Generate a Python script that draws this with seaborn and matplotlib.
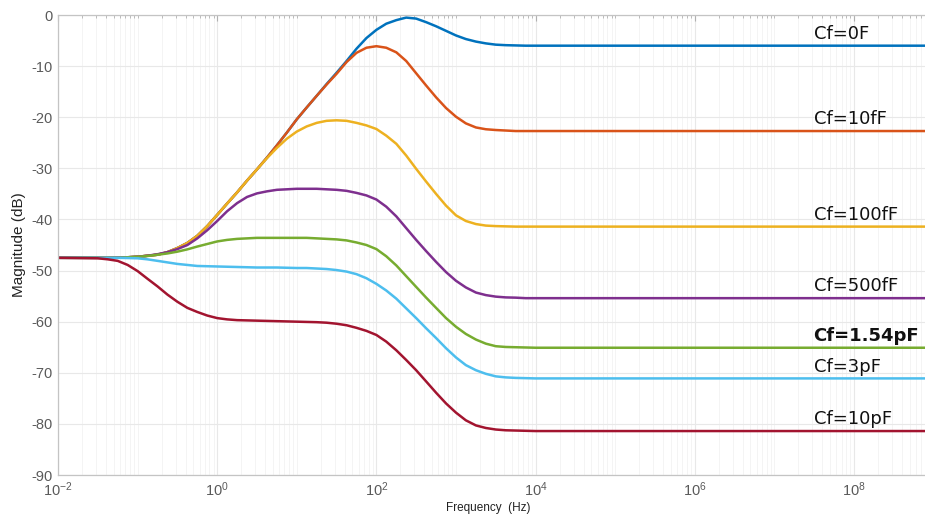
import numpy as np
import pandas as pd
import matplotlib
matplotlib.use("Agg")
import matplotlib.pyplot as plt
import seaborn as sns
from matplotlib.ticker import FixedLocator, LogLocator, LogFormatterSciNotation, NullFormatter

# ---------------- data ----------------
freq_hz = [1e-2, 3.16e-2, 4.22e-2, 5.62e-2, 7.50e-2, 1e-1, 1.33e-1, 1.78e-1, 2.37e-1, 3.16e-1, 4.22e-1, 5.62e-1, 7.50e-1,
           1.0, 1.33, 1.78, 2.37, 3.16, 4.22, 5.62, 7.50,
           10.0, 13.3, 17.8, 23.7, 31.6, 42.2, 56.2, 75.0,
           100.0, 133.0, 178.0, 237.0, 316.0, 422.0, 562.0, 750.0,
           1000.0, 1330.0, 1780.0, 2370.0, 3160.0, 4220.0, 5620.0, 7500.0,
           1e4, 3.16e4, 1e5, 1e6, 1e7, 1e8, 1e9]

cf_labels = ["Cf=0F", "Cf=10fF", "Cf=100fF", "Cf=500fF", "Cf=1.54pF", "Cf=3pF", "Cf=10pF"]

mag_0F = [-47.5, -47.5, -47.5, -47.45, -47.4, -47.3, -47.1, -46.9, -46.4, -45.6, -44.6, -43.2, -41.3,
          -39.1, -36.9, -34.7, -32.4, -30.2, -27.9, -25.5, -23.0,
          -20.4, -18.1, -15.8, -13.5, -11.3, -9.0, -6.6, -4.5,
          -2.9, -1.7, -1.0, -0.5, -0.7, -1.4, -2.2, -3.1,
          -4.0, -4.7, -5.2, -5.55, -5.8, -5.9, -5.95, -6.0,
          -6.0, -6.0, -6.0, -6.0, -6.0, -6.0, -6.0]
mag_10fF = [-47.5, -47.5, -47.5, -47.45, -47.4, -47.3, -47.1, -46.9, -46.4, -45.6, -44.6, -43.2, -41.3,
            -39.1, -36.9, -34.7, -32.4, -30.2, -27.9, -25.5, -23.0,
            -20.4, -18.1, -15.8, -13.6, -11.5, -9.2, -7.4, -6.4,
            -6.1, -6.4, -7.3, -9.0, -11.4, -13.8, -16.1, -18.2,
            -19.9, -21.2, -22.0, -22.35, -22.5, -22.6, -22.7, -22.7,
            -22.7, -22.7, -22.7, -22.7, -22.7, -22.7, -22.7]
mag_100fF = [-47.5, -47.5, -47.5, -47.45, -47.4, -47.3, -47.1, -46.9, -46.4, -45.6, -44.6, -43.2, -41.3,
             -39.1, -36.9, -34.7, -32.4, -30.2, -28.0, -26.0, -24.2,
             -22.8, -21.8, -21.1, -20.7, -20.6, -20.7, -21.1, -21.6,
             -22.3, -23.6, -25.2, -27.5, -30.1, -32.6, -35.0, -37.3,
             -39.2, -40.3, -40.9, -41.2, -41.3, -41.35, -41.4, -41.4,
             -41.4, -41.4, -41.4, -41.4, -41.4, -41.4, -41.4]
mag_500fF = [-47.5, -47.5, -47.5, -47.45, -47.4, -47.3, -47.1, -46.8, -46.4, -45.8, -45.0, -43.7, -42.1,
             -40.3, -38.4, -36.8, -35.6, -34.9, -34.5, -34.2, -34.1,
             -34.0, -34.0, -34.0, -34.1, -34.2, -34.4, -34.8, -35.3,
             -36.1, -37.5, -39.4, -41.7, -44.0, -46.2, -48.3, -50.3,
             -52.0, -53.3, -54.3, -54.8, -55.1, -55.25, -55.3, -55.4,
             -55.4, -55.4, -55.4, -55.4, -55.4, -55.4, -55.4]
mag_1p54pF = [-47.5, -47.5, -47.5, -47.5, -47.4, -47.3, -47.15, -46.9, -46.65, -46.3, -45.85, -45.3, -44.8,
              -44.3, -44.0, -43.8, -43.7, -43.6, -43.6, -43.6, -43.6,
              -43.6, -43.6, -43.7, -43.8, -43.9, -44.1, -44.5, -45.0,
              -45.8, -47.2, -49.0, -51.1, -53.2, -55.3, -57.3, -59.3,
              -61.0, -62.4, -63.5, -64.3, -64.8, -64.95, -65.0, -65.05,
              -65.1, -65.1, -65.1, -65.1, -65.1, -65.1, -65.1]
mag_3pF = [-47.5, -47.5, -47.5, -47.5, -47.55, -47.6, -47.8, -48.1, -48.4, -48.7, -48.9, -49.1, -49.15,
           -49.2, -49.25, -49.3, -49.35, -49.4, -49.4, -49.4, -49.45,
           -49.5, -49.5, -49.6, -49.7, -49.9, -50.2, -50.7, -51.5,
           -52.6, -53.9, -55.5, -57.4, -59.3, -61.3, -63.2, -65.2,
           -67.0, -68.5, -69.5, -70.2, -70.7, -70.9, -71.0, -71.05,
           -71.1, -71.1, -71.1, -71.1, -71.1, -71.1, -71.1]
mag_10pF = [-47.5, -47.6, -47.8, -48.1, -48.9, -50.1, -51.6, -53.1, -54.7, -56.1, -57.3, -58.1, -58.8,
            -59.3, -59.55, -59.7, -59.75, -59.8, -59.85, -59.9, -59.95,
            -60.0, -60.05, -60.1, -60.2, -60.4, -60.7, -61.2, -61.8,
            -62.6, -63.9, -65.6, -67.5, -69.5, -71.7, -73.9, -76.0,
            -77.8, -79.3, -80.3, -80.8, -81.1, -81.25, -81.3, -81.35,
            -81.4, -81.4, -81.4, -81.4, -81.4, -81.4, -81.4]

series = [mag_0F, mag_10fF, mag_100fF, mag_500fF, mag_1p54pF, mag_3pF, mag_10pF]

y_ticks = [0, -10, -20, -30, -40, -50, -60, -70, -80, -90]
x_major = [1e-2, 1e0, 1e2, 1e4, 1e6, 1e8]

# ---------------- style ----------------
colors = ["#0072BD", "#D95319", "#EDB120", "#7E2F8E", "#77AC30", "#4DBEEE", "#A2142F"]

sns.set_style("white")
plt.rcParams["font.family"] = ["Liberation Sans", "DejaVu Sans"]
plt.rcParams["axes.unicode_minus"] = False

df = pd.concat(
    [pd.DataFrame({"freq": freq_hz, "mag": vals, "cf": lab}) for lab, vals in zip(cf_labels, series)],
    ignore_index=True,
)

fig = plt.figure(figsize=(9.25, 5.18), dpi=100)
ax = fig.add_axes([0.0627, 0.083, 0.9466, 0.888])

sns.lineplot(data=df, x="freq", y="mag", hue="cf", palette=colors, hue_order=cf_labels,
             linewidth=1.8, legend=False, ax=ax, estimator=None,
             solid_joinstyle="round", solid_capstyle="round")

ax.set_xscale("log")
ax.set_xlim(1e-2, 1e9)
ax.set_ylim(-90, 0)

ax.xaxis.set_major_locator(FixedLocator(x_major))
ax.xaxis.set_major_formatter(LogFormatterSciNotation())
ax.xaxis.set_minor_locator(LogLocator(base=10, subs=np.arange(1, 10), numticks=200))
ax.xaxis.set_minor_formatter(NullFormatter())
ax.set_yticks(y_ticks)

ax.grid(which="major", color="#e8e8e8", linewidth=0.8)
ax.grid(which="minor", axis="x", color="#f3f3f3", linewidth=0.6)
ax.set_axisbelow(True)

for sp in ax.spines.values():
    sp.set_color("#c4c4c4")
    sp.set_linewidth(0.9)

ax.tick_params(which="both", direction="in", top=True, right=True, color="#b0b0b0",
               labelcolor="#5a5a5a", labelsize=10.5)
ax.tick_params(which="major", length=4.5, width=0.8)
ax.tick_params(which="minor", length=2.5, width=0.6)
ax.tick_params(axis="y", pad=4)
ax.tick_params(axis="x", pad=4)

ax.set_xlabel("Frequency  (Hz)", fontsize=8.5, color="#222222")
ax.xaxis.set_label_coords(0.491, -0.058)
ax.set_ylabel("Magnitude (dB)", fontsize=11, color="#222222")
ax.yaxis.set_label_coords(-0.036, 0.5)

# curve labels
label_x = 3.1e7
for lab, vals in zip(cf_labels, series):
    bold = lab == "Cf=1.54pF"
    ax.text(label_x, vals[-1] + 2.3, lab, fontsize=13, va="center", ha="left",
            family=["DejaVu Sans"], fontweight="bold" if bold else "normal", color="#111111")

fig.savefig("out.png", dpi=100)
